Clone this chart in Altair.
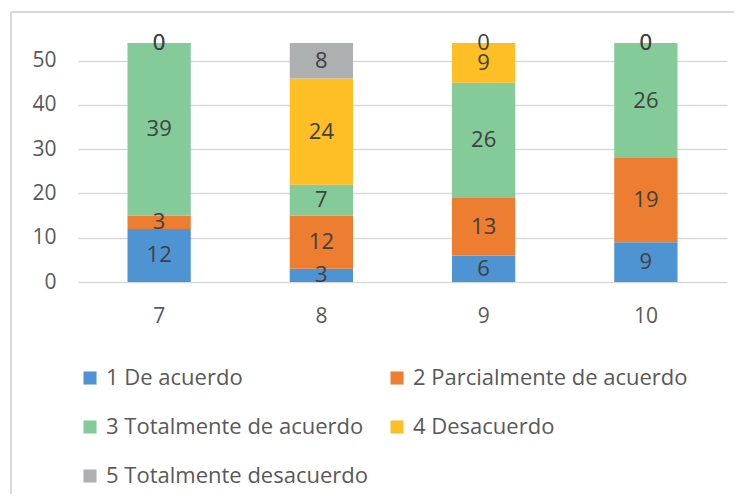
import altair as alt
import pandas as pd

categories = ["7", "8", "9", "10"]
series = ["1 De acuerdo", "2 Parcialmente de acuerdo", "3 Totalmente de acuerdo",
          "4 Desacuerdo", "5 Totalmente desacuerdo"]
s1 = [12, 3, 6, 9]
s2 = [3, 12, 13, 19]
s3 = [39, 7, 26, 26]
s4 = [0, 24, 9, 0]
s5 = [0, 8, 0, 0]
colors = ["#4E94D3", "#ED7D31", "#85CB9A", "#FDBE26", "#ADB0B1"]

rows = []
for si, (name, vals) in enumerate(zip(series, [s1, s2, s3, s4, s5])):
    for ci, (cat, v) in enumerate(zip(categories, vals)):
        rows.append({"cat": cat, "serie": name, "value": v, "order": si})
df = pd.DataFrame(rows)

FONT = "Open Sans"

base = alt.Chart(df).transform_stack(
    stack="value", groupby=["cat"], as_=["y0", "y1"],
    sort=[alt.SortField("order", order="ascending")]
).transform_calculate(mid="(datum.y0 + datum.y1) / 2")

xenc = alt.X("cat:N", sort=categories, title=None,
             scale=alt.Scale(paddingInner=0.61, paddingOuter=0.305),
             axis=alt.Axis(labelAngle=0, ticks=False, domain=False, grid=False,
                           labelPadding=23, labelFontSize=21, labelColor="#595959",
                           labelFont=FONT))

bars = base.mark_bar().encode(
    x=xenc,
    y=alt.Y("y0:Q", title=None,
            scale=alt.Scale(domain=[0, 54], nice=False),
            axis=alt.Axis(values=[0, 10, 20, 30, 40, 50], ticks=False, domain=False,
                          gridColor="#D9D9D9", gridWidth=1.5, labelPadding=22,
                          labelFontSize=21, labelColor="#595959", labelFont=FONT)),
    y2="y1:Q",
    color=alt.Color("serie:N", sort=series,
                    scale=alt.Scale(domain=series, range=colors),
                    legend=alt.Legend(title=None, orient="none", legendX=1, legendY=324,
                                      direction="horizontal",
                                      columns=2, columnPadding=18, rowPadding=27,
                                      symbolType="square", symbolSize=170,
                                      symbolStrokeWidth=0, labelFontSize=22,
                                      labelFont=FONT, labelColor="#595959",
                                      labelLimit=400, labelOffset=5, symbolOffset=0)),
)

labels = base.mark_text(fontSize=22, font=FONT, color="#404040", baseline="middle").encode(
    x=alt.X("cat:N", sort=categories),
    y=alt.Y("mid:Q"),
    text=alt.Text("value:Q"),
)

frame_left = alt.Chart(pd.DataFrame({"a": [0]})).mark_rule(color="#D9D9D9", strokeWidth=2).encode(
    x=alt.value(-67), y=alt.value(-31), y2=alt.value(470))
frame_top = alt.Chart(pd.DataFrame({"a": [0]})).mark_rule(color="#D9D9D9", strokeWidth=2).encode(
    x=alt.value(-67), x2=alt.value(700), y=alt.value(-31))

chart = alt.layer(frame_left, frame_top, bars, labels).properties(
    width=649, height=239,
    autosize=alt.AutoSizeParams(type="none"),
    padding={"left": 70, "top": 35, "right": 7, "bottom": 212},
).configure_view(stroke=None)

chart.save("out.html", embed_options={"renderer": "svg", "actions": False})
